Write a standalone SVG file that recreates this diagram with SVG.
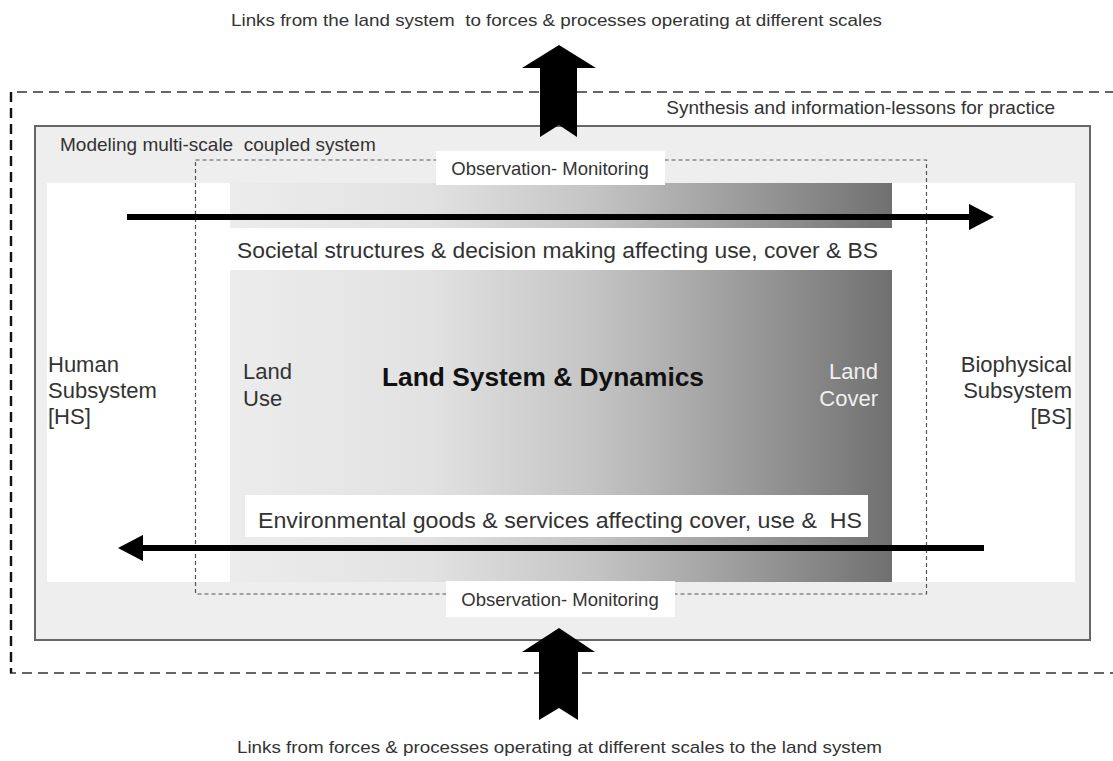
<svg xmlns="http://www.w3.org/2000/svg" width="1113" height="761" viewBox="0 0 1113 761" xml:space="preserve">
<style>
text{font-family:"Liberation Sans",Arial,sans-serif;fill:#333;white-space:pre}
.cap{font-size:17px}
.lbl{font-size:19px}
.big{font-size:22px}
.obs{font-size:18.5px}
</style>
<defs>
<linearGradient id="g" x1="0" y1="0" x2="1" y2="0">
<stop offset="0" stop-color="#ececec"/>
<stop offset="0.3" stop-color="#e2e2e2"/>
<stop offset="0.55" stop-color="#c4c4c4"/>
<stop offset="0.8" stop-color="#979797"/>
<stop offset="1" stop-color="#707070"/>
</linearGradient>
<marker id="ah" markerWidth="4.2" markerHeight="4.4" refX="0.2" refY="2.2" orient="auto" markerUnits="strokeWidth">
<path d="M0,0 L4.2,2.2 L0,4.4 Z" fill="#000"/>
</marker>
</defs>
<rect width="1113" height="761" fill="#fff"/>
<g id="outer">
<path d="M1131,92 H11 V673 H1131" fill="none" stroke="#666" stroke-width="2" stroke-dasharray="10 6"/>
<line x1="11" y1="92" x2="11" y2="673" stroke="#111" stroke-width="2.4" stroke-dasharray="10 6"/>
<text class="lbl" x="1055" y="114" text-anchor="end">Synthesis and information-lessons for practice</text>
</g>
<g id="model">
<rect x="35" y="126" width="1055" height="514" fill="#eeeeee" stroke="#666" stroke-width="2"/>
<text class="lbl" x="60" y="151">Modeling multi-scale  coupled system</text>
</g>
<g id="panel">
<rect x="47" y="183" width="1028" height="399" fill="#fff"/>
<rect x="230" y="183" width="662" height="45" fill="url(#g)"/>
<rect x="230" y="270" width="662" height="312" fill="url(#g)"/>
</g>
<g id="hs">
<text class="big" x="48" y="372">Human</text>
<text class="big" x="48" y="398">Subsystem</text>
<text class="big" x="48" y="424">[HS]</text>
</g>
<g id="bs">
<text class="big" x="1072" y="372" text-anchor="end">Biophysical</text>
<text class="big" x="1072" y="398" text-anchor="end">Subsystem</text>
<text class="big" x="1072" y="424" text-anchor="end">[BS]</text>
</g>
<g id="land">
<text class="big" x="243" y="379">Land</text>
<text class="big" x="243" y="406">Use</text>
<text x="382" y="386" textLength="322" lengthAdjust="spacingAndGlyphs" style="font-size:26px;font-weight:bold;fill:#111">Land System &amp; Dynamics</text>
<text class="big" x="878" y="379" text-anchor="end" style="fill:#f0f0f0">Land</text>
<text class="big" x="878" y="406" text-anchor="end" style="fill:#f0f0f0">Cover</text>
</g>
<g id="societal">
<text class="big" x="237" y="258" textLength="641" lengthAdjust="spacingAndGlyphs">Societal structures &amp; decision making affecting use, cover &amp; BS</text>
</g>
<g id="env">
<rect x="245" y="495" width="623" height="42" fill="#fff"/>
<text class="big" x="258" y="528" textLength="604" lengthAdjust="spacingAndGlyphs">Environmental goods &amp; services affecting cover, use &amp;  HS</text>
</g>
<g id="obsbox">
<rect x="195.5" y="160" width="731" height="434" fill="none" stroke="#555" stroke-width="1.2" stroke-dasharray="4 3"/>
</g>
<g id="obs-top">
<rect x="436" y="151" width="229" height="34" fill="#fff"/>
<text class="obs" x="550" y="175" text-anchor="middle">Observation- Monitoring</text>
</g>
<g id="obs-bottom">
<rect x="446" y="581" width="229" height="36" fill="#fff"/>
<text class="obs" x="560" y="606" text-anchor="middle">Observation- Monitoring</text>
</g>
<g id="connectors">
<line x1="127" y1="217" x2="970" y2="217" stroke="#000" stroke-width="6" marker-end="url(#ah)"/>
<line x1="984" y1="548" x2="142" y2="548" stroke="#000" stroke-width="6" marker-end="url(#ah)"/>
<path d="M559,45 L596,68 L577,68 L577,137 L559,125 L540,137 L540,68 L522,68 Z" fill="#000"/>
<path d="M559,628 L595,652 L578,652 L578,720 L559,708 L539,720 L539,652 L522,652 Z" fill="#000"/>
</g>
<g id="captions">
<text class="cap" x="231" y="26" textLength="651" lengthAdjust="spacingAndGlyphs">Links from the land system  to forces &amp; processes operating at different scales</text>
<text class="cap" x="237" y="753" textLength="645" lengthAdjust="spacingAndGlyphs">Links from forces &amp; processes operating at different scales to the land system</text>
</g>
</svg>
